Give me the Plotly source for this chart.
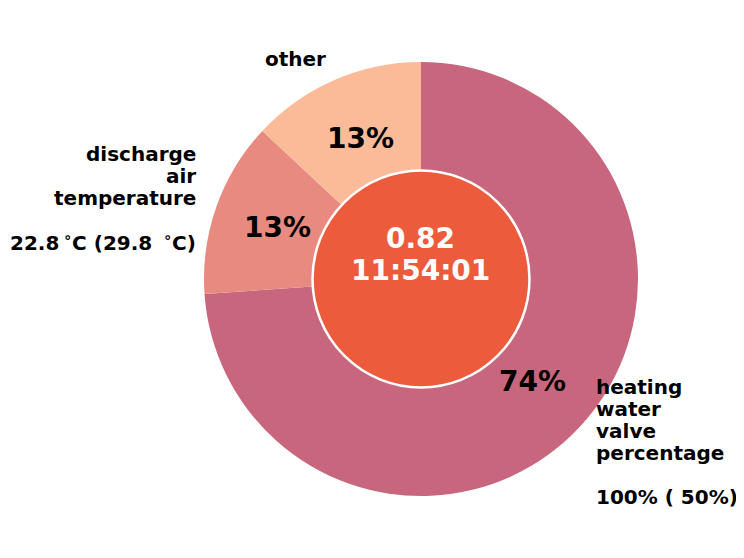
import math
import plotly.graph_objects as go

label_lines = [
    ["heating", "water", "valve", "percentage", "", "100% ( 50%)"],
    ["discharge", "air", "temperature", "",
     "22.8\u2009<sup>∘</sup>C (29.8 \u2009<sup>∘</sup>C)"],
    ["other"],
]
values = [73.9, 13.05, 13.05]
colors = ["#c8667e", "#e98a80", "#fbbb98"]
center_value = "0.82"
center_time = "11:54:01"
center_color = "#eb5b3c"

W, H = 744, 558
OFF = 8  # page body margin
cx, cy, R = 421, 279, 217
FONT = "DejaVu Sans"


def px(x):
    return (x - OFF) / W


def py(y):
    return 1 - (y - OFF) / H


fig = go.Figure()
fig.add_trace(go.Pie(
    values=values, labels=["heating water valve percentage", "discharge air temperature", "other"],
    marker=dict(colors=colors, line=dict(width=0)),
    sort=False, direction="clockwise", rotation=0, hole=0.5,
    textinfo="none",
    domain=dict(x=[px(cx - R), px(cx + R)], y=[py(cy + R), py(cy - R)]),
    showlegend=False, hoverinfo="skip",
))
r2 = R * 0.5
fig.add_trace(go.Pie(
    values=[1], marker=dict(colors=[center_color], line=dict(color="white", width=2.5)),
    textinfo="none", sort=False,
    domain=dict(x=[px(cx - r2), px(cx + r2)], y=[py(cy + r2), py(cy - r2)]),
    showlegend=False, hoverinfo="skip",
))

for txt, yy in [(center_value, 238), (center_time, 270)]:
    fig.add_annotation(x=px(cx), y=py(yy), xref="paper", yref="paper",
                       text=txt, showarrow=False,
                       font=dict(family=FONT, size=28, color="black" if False else "white", weight="bold"),
                       xanchor="center", yanchor="middle")

start = 90.0
total = sum(values)
LH = 22
for lines, v in zip(label_lines, values):
    span = 360 * v / total
    mid = math.radians(start - span / 2)
    start -= span
    # percentage inside
    xp = cx + 0.7 * R * math.cos(mid)
    yp = cy - 0.7 * R * math.sin(mid)
    fig.add_annotation(x=px(xp), y=py(yp - 1), xref="paper", yref="paper",
                       text=f"{round(100 * v / total)}%", showarrow=False,
                       font=dict(family=FONT, size=28, color="black", weight="bold"),
                       xanchor="center", yanchor="middle")
    # outside label
    x = cx + 1.1 * R * math.cos(mid)
    y = cy - 1.1 * R * math.sin(mid)
    right = x > cx
    n = len(lines)
    for i, ln in enumerate(lines):
        if not ln:
            continue
        yl = y + (i - (n - 1) / 2) * LH - (0 if right else 1.5)
        fig.add_annotation(x=px(x), y=py(yl), xref="paper", yref="paper", text=ln,
                           showarrow=False, xshift=-2 if right else 2,
                           xanchor="left" if right else "right", yanchor="middle",
                           font=dict(family=FONT, size=20, color="black", weight="bold"))

fig.update_layout(width=W, height=H, margin=dict(l=0, r=0, t=0, b=0),
                  paper_bgcolor="white", plot_bgcolor="white")
fig.write_html("out.html")
